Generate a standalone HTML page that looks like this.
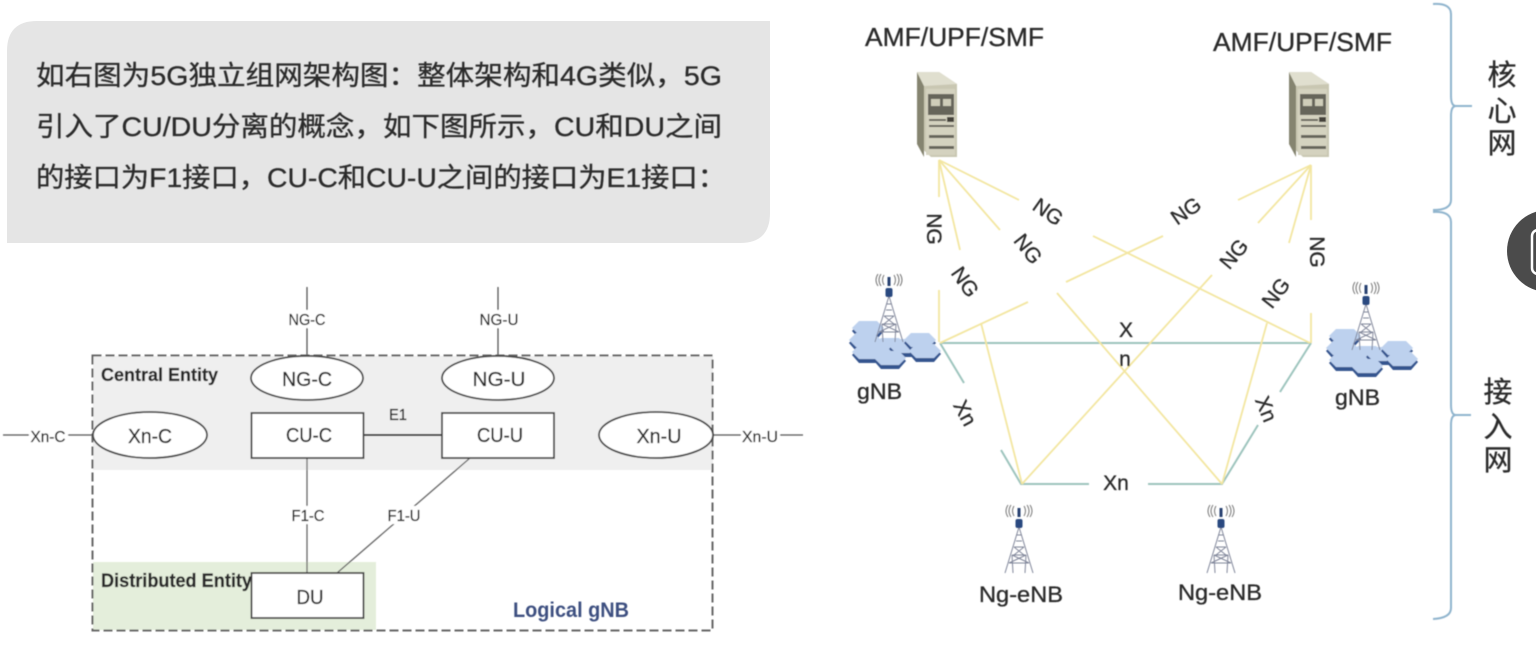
<!DOCTYPE html>
<html><head><meta charset="utf-8"><style>
html,body{margin:0;padding:0;background:#fff;width:1536px;height:646px;overflow:hidden}
svg{display:block}
text{font-family:"Liberation Sans","Noto Sans CJK SC",sans-serif;fill:#2a2a2a;stroke:#2a2a2a;stroke-width:.3}
</style></head><body>
<svg width="1536" height="646" viewBox="0 0 1536 646" xmlns="http://www.w3.org/2000/svg">
<defs>
<filter id="b" x="-5%" y="-5%" width="110%" height="110%"><feGaussianBlur stdDeviation="0.6"/></filter>
<g id="srv">
<polygon points="0,0 22,0 40,12 40,85 14,85 0,72" fill="#c9c7b2"/>
<polygon points="0,0 7,14 7,85 0,72" fill="#85846f"/>
<polygon points="0,0 22,0 40,12 7,14" fill="#e0dfcf"/>
<rect x="9" y="17" width="29" height="66" fill="#d4d2bf"/>
<rect x="11" y="22" width="26" height="21" fill="#66655a"/>
<rect x="14" y="27" width="9" height="7" fill="#cfcdb9"/><rect x="26" y="27" width="8" height="7" fill="#cfcdb9"/>
<rect x="12" y="47" width="17" height="2" fill="#66655a"/><rect x="30" y="45" width="7" height="5" fill="#44433b"/>
<rect x="12" y="53" width="25" height="2" fill="#66655a"/><rect x="12" y="63" width="25" height="3" fill="#66655a"/><rect x="12" y="74" width="25" height="3" fill="#66655a"/>
</g>
<g id="hex"><polygon points="-16,3 -9,-5 9,-5 16,3 9,11 -9,11" fill="#35558f"/><polygon points="-16,0 -9,-7 9,-7 16,0 9,7 -9,7" fill="#bdd1ee"/></g>
<g id="tw" fill="none" stroke="#80869a" stroke-width="1">
<path d="M0,16 L-14,62 M0,16 L14,62 M-2,24 L2,24 M-3,30 L3,30 M-5,36 L5,36 M-7,44 L7,44 M-10,52 L10,52 M-5,36 L5,44 M5,36 L-5,44 M-7,44 L10,52 M7,44 L-10,52 M-7,44 L-6,62 M7,44 L6,62"/>
<path d="M-5,-5 Q-8,0 -5,5 M5,-5 Q8,0 5,5 M-8,-6 Q-12,0 -8,6 M8,-6 Q12,0 8,6 M-11,-6 Q-15,0 -11,6 M11,-6 Q15,0 11,6" stroke="#777"/>
<rect x="-1.500" y="-3" width="3" height="9" fill="#25406f" stroke="none"/>
<rect x="-3.500" y="8" width="7" height="9" rx="2" fill="#2c4a80" stroke="none"/>
</g>
<g id="gnb">
<use href="#hex" x="-21" y="56"/><use href="#hex" x="-24" y="68"/><use href="#hex" x="1" y="73"/><use href="#hex" x="16" y="74"/>
<use href="#hex" x="-21" y="80"/><use href="#hex" x="31" y="68"/><use href="#hex" x="36" y="79"/><use href="#hex" x="1" y="86"/>
<use href="#tw" x="0" y="8"/>
</g>
</defs>

<path d="M37,21 H770 V213 Q770,243 740,243 H7 V51 Q7,21 37,21 Z" fill="#e5e5e5"/>
<g filter="url(#b)">
<text x="36" y="85" font-size="27" textLength="686" lengthAdjust="spacingAndGlyphs">如右图为5G独立组网架构图：整体架构和4G类似，5G</text>
<text x="36" y="136" font-size="27" textLength="686" lengthAdjust="spacingAndGlyphs">引入了CU/DU分离的概念，如下图所示，CU和DU之间</text>
<text x="36" y="187" font-size="27" textLength="690" lengthAdjust="spacingAndGlyphs">的接口为F1接口，CU-C和CU-U之间的接口为E1接口：</text>
</g>

<g filter="url(#b)">
<rect x="93" y="356" width="620" height="114" fill="#efefef"/>
<rect x="93" y="562" width="283" height="68" fill="#e4eedb"/>
<g stroke="#555" stroke-width="1.300" fill="none">
<path d="M307,287 V358 M498,287 V358 M3,435 H93 M713,435 H803"/>
<path d="M307,458 V573 M470,458 L337,573" stroke="#666"/>
</g>
<path d="M363,435 H442" stroke="#333" stroke-width="2"/>
<rect x="92.500" y="355.500" width="620" height="275" fill="none" stroke="#666" stroke-width="2" stroke-dasharray="9 4"/>
<g fill="#fff" stroke="#444" stroke-width="1.800">
<ellipse cx="307" cy="378" rx="56" ry="22"/><ellipse cx="498" cy="378" rx="56" ry="22"/>
<ellipse cx="150" cy="435" rx="57" ry="23"/><ellipse cx="656" cy="435" rx="57" ry="23"/>
<rect x="251.500" y="413" width="112" height="45"/><rect x="442" y="413" width="112" height="45"/>
<rect x="251.500" y="573" width="112" height="45"/>
</g>
<g fill="#fff">
<rect x="288" y="310" width="39" height="18"/><rect x="478" y="310" width="41" height="18"/>
<rect x="29" y="427" width="39" height="17"/><rect x="741" y="427" width="39" height="17"/>
<rect x="290" y="506" width="35" height="18"/><rect x="386" y="506" width="35" height="18"/>
</g>
<g font-size="16" text-anchor="middle">
<text x="307" y="325" textLength="37" lengthAdjust="spacingAndGlyphs">NG-C</text>
<text x="499" y="325" textLength="39" lengthAdjust="spacingAndGlyphs">NG-U</text>
<text x="48" y="442" textLength="35" lengthAdjust="spacingAndGlyphs">Xn-C</text>
<text x="760" y="442" textLength="36" lengthAdjust="spacingAndGlyphs">Xn-U</text>
<text x="308" y="521" textLength="33" lengthAdjust="spacingAndGlyphs">F1-C</text>
<text x="404" y="521" textLength="33" lengthAdjust="spacingAndGlyphs">F1-U</text>
<text x="398" y="420" textLength="18" lengthAdjust="spacingAndGlyphs">E1</text>
</g>
<g font-size="20" text-anchor="middle">
<text x="307" y="386" textLength="50" lengthAdjust="spacingAndGlyphs">NG-C</text>
<text x="499" y="386" textLength="53" lengthAdjust="spacingAndGlyphs">NG-U</text>
<text x="150" y="443" textLength="44" lengthAdjust="spacingAndGlyphs">Xn-C</text>
<text x="659" y="443" textLength="45" lengthAdjust="spacingAndGlyphs">Xn-U</text>
<text x="309" y="442" textLength="46" lengthAdjust="spacingAndGlyphs">CU-C</text>
<text x="500" y="442" textLength="46" lengthAdjust="spacingAndGlyphs">CU-U</text>
<text x="310" y="604" textLength="27" lengthAdjust="spacingAndGlyphs">DU</text>
</g>
<text x="101" y="381" font-size="18" font-weight="bold" textLength="117" lengthAdjust="spacingAndGlyphs">Central Entity</text>
<text x="101" y="587" font-size="19" font-weight="bold" textLength="151" lengthAdjust="spacingAndGlyphs">Distributed Entity</text>
<text x="513" y="617" font-size="21" font-weight="bold" textLength="116" lengthAdjust="spacingAndGlyphs" style="fill:#3d4f80;stroke:none">Logical gNB</text>
</g>

<g filter="url(#b)">
<g stroke="#9dc4bd" stroke-width="2" fill="none">
<path d="M940,343 H1311"/>
<path d="M940,343 L964,383 M1001,450 L1021,484 H1089 M1148,484 H1222 L1258,425 M1280,392 L1311,343"/>
</g>
<g stroke="#f3e6a0" stroke-width="1.800" fill="none">
<path d="M939,160 V197 M939,290 V342"/>
<path d="M939,160 L960,250 M981,323 L1022,484"/>
<path d="M939,160 L1000,230 M1057,293 L1222,484"/>
<path d="M939,160 L1019,200 M1093,236 L1310,343"/>
<path d="M1311,165 V220 M1311,313 V343"/>
<path d="M1311,165 L1238,200 M1163,236 L1066,282 M1028,302 L940,343"/>
<path d="M1311,165 L1258,223 M1212,275 L1022,484"/>
<path d="M1311,165 L1289,243 M1267,323 L1222,484"/>
</g>
<use href="#srv" x="917" y="72"/>
<use href="#srv" x="1289" y="72"/>
<use href="#gnb" x="889" y="272"/>
<use href="#gnb" x="1366" y="280"/>
<use href="#tw" x="1019" y="511"/>
<use href="#tw" x="1221" y="511"/>
<g font-size="26">
<text x="865" y="46" textLength="179" lengthAdjust="spacingAndGlyphs">AMF/UPF/SMF</text>
<text x="1213" y="51" textLength="179" lengthAdjust="spacingAndGlyphs">AMF/UPF/SMF</text>
</g>
<g font-size="22">
<text x="857" y="399" textLength="45" lengthAdjust="spacingAndGlyphs">gNB</text>
<text x="1335" y="405" textLength="45" lengthAdjust="spacingAndGlyphs">gNB</text>
<text x="979" y="602" textLength="84" lengthAdjust="spacingAndGlyphs">Ng-eNB</text>
<text x="1178" y="600" textLength="84" lengthAdjust="spacingAndGlyphs">Ng-eNB</text>
</g>
<g font-size="21" text-anchor="middle">
<text transform="translate(934,229) rotate(90)" y="7">NG</text>
<text transform="translate(965,282) rotate(55)" y="7">NG</text>
<text transform="translate(1028,249) rotate(52)" y="7">NG</text>
<text transform="translate(1048,212) rotate(35)" y="7">NG</text>
<text transform="translate(1186,211) rotate(-35)" y="7">NG</text>
<text transform="translate(1234,254) rotate(-50)" y="7">NG</text>
<text transform="translate(1276,293) rotate(-52)" y="7">NG</text>
<text transform="translate(1317,252) rotate(90)" y="7">NG</text>
<text transform="translate(965,413) rotate(62)" y="7">Xn</text>
<text transform="translate(1266,409) rotate(68)" y="7">Xn</text>
<text x="1126" y="337">X</text>
<text x="1125" y="366">n</text>
<text x="1116" y="490">Xn</text>
</g>
<g fill="none" stroke="#8fb4cd" stroke-width="2">
<path d="M1433,4 Q1451,3 1451,14 V96 Q1451,106 1456,106 H1472 M1456,106 Q1451,106 1451,116 V200 Q1451,210 1433,210"/>
<path d="M1433,212 Q1451,211 1451,222 V405 Q1451,415 1456,415 H1471 M1456,415 Q1451,415 1451,425 V608 Q1451,618 1433,619"/>
</g>
<g font-size="29" text-anchor="middle">
<text x="1502" y="85">核</text><text x="1502" y="121">心</text><text x="1502" y="153">网</text>
<text x="1498" y="402">接</text><text x="1498" y="437">入</text><text x="1498" y="470">网</text>
</g>
</g>
<circle cx="1548" cy="251" r="41" fill="#4b4b4b"/>
<rect x="1532" y="230" width="30" height="44" rx="6" fill="none" stroke="#fff" stroke-width="2.500"/>
</svg>
</body></html>
